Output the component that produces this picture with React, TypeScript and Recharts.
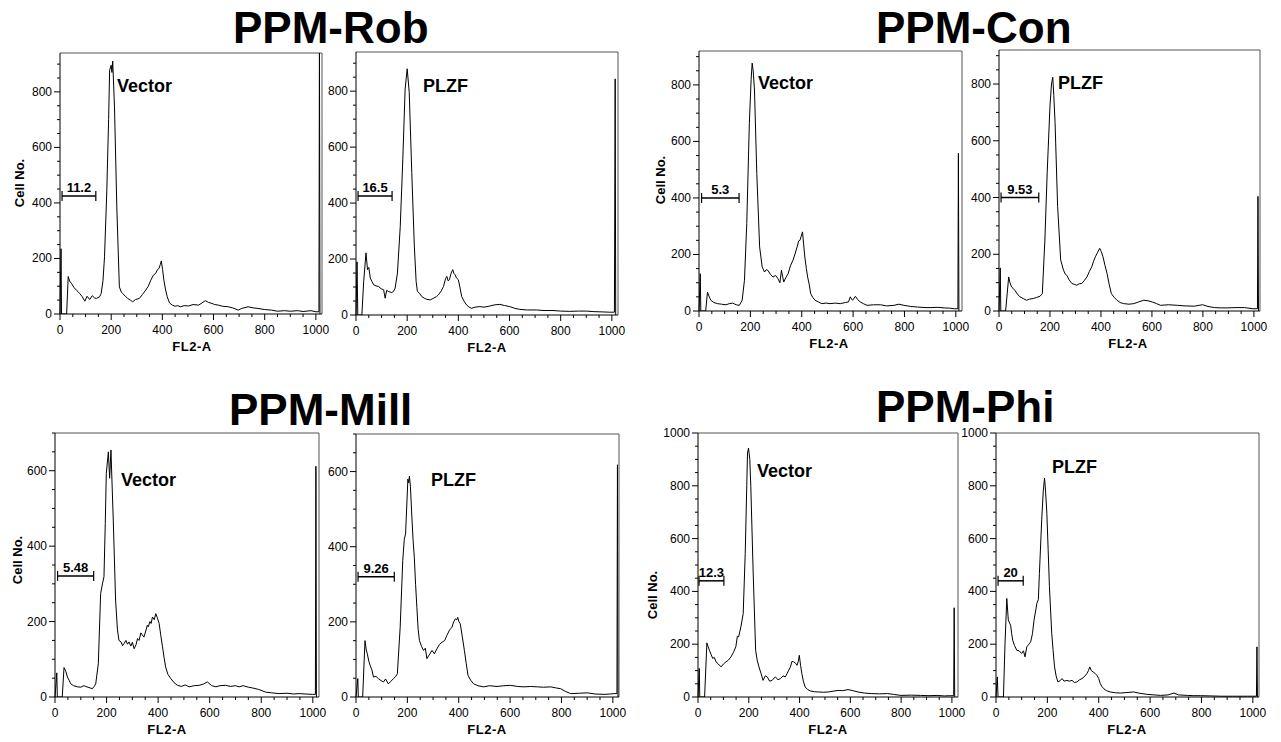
import React from 'react';
import { LineChart, Line, XAxis, YAxis, ReferenceLine } from 'recharts';

// FL2-A channel vs cell count
const robVector = [[0,0],[4,235],[6,0],[26,0],[32,135],[38,118],[45,110],[55,95],[66,84],[77,74],[87,62],[97,46],[106,64],[116,52],[126,66],[135,58],[142,56],[155,62],[161,74],[168,120],[174,206],[183,446],[190,700],[194,878],[200,896],[203,870],[206,911],[213,746],[222,386],[232,98],[240,78],[245,74],[255,64],[265,56],[275,50],[284,44],[295,52],[310,56],[322,70],[335,86],[345,100],[355,122],[365,140],[374,146],[381,160],[387,164],[392,178],[396,191],[401,160],[406,122],[412,90],[419,62],[428,40],[439,32],[450,28],[460,30],[471,26],[485,30],[503,29],[520,34],[542,32],[555,40],[568,48],[580,42],[594,38],[605,34],[619,32],[635,28],[658,26],[675,22],[697,14],[710,20],[735,26],[755,22],[774,20],[800,16],[826,14],[850,10],[877,12],[900,10],[929,12],[950,9],[981,12],[1000,8],[1012,8],[1014,1000],[1016,0]];
const robPlzf = [[0,0],[4,190],[7,0],[23,0],[30,120],[39,222],[45,162],[50,170],[56,132],[62,120],[69,108],[78,104],[88,102],[98,94],[108,90],[114,60],[120,88],[127,84],[140,80],[148,86],[153,96],[162,150],[173,317],[183,557],[192,808],[200,880],[208,796],[218,509],[228,246],[235,120],[240,84],[248,78],[257,66],[267,60],[277,56],[290,54],[303,60],[315,66],[322,72],[333,86],[342,102],[350,130],[355,138],[360,122],[365,126],[372,150],[378,162],[383,148],[387,144],[393,132],[400,126],[406,100],[413,66],[422,50],[432,36],[442,28],[452,24],[465,28],[484,30],[500,28],[523,32],[540,36],[562,38],[580,34],[601,30],[620,24],[640,20],[670,18],[705,18],[735,16],[770,16],[800,14],[835,13],[870,14],[900,14],[930,12],[965,11],[990,10],[1010,10],[1013,844],[1015,0]];
const conVector = [[0,0],[5,132],[7,0],[26,0],[33,67],[40,50],[46,38],[58,30],[72,26],[88,24],[105,22],[118,26],[131,28],[145,22],[157,20],[168,38],[177,109],[186,310],[196,664],[203,820],[207,877],[211,850],[216,782],[225,487],[236,227],[246,156],[255,138],[262,146],[268,144],[278,130],[288,120],[298,126],[307,115],[315,100],[321,144],[326,120],[330,103],[338,118],[347,132],[356,160],[366,180],[375,205],[382,227],[388,248],[393,250],[398,265],[403,280],[407,240],[412,191],[418,150],[423,120],[429,95],[435,61],[443,48],[452,38],[465,32],[478,26],[495,28],[510,26],[530,28],[550,26],[570,30],[582,32],[589,50],[594,42],[598,38],[604,46],[609,52],[618,40],[628,32],[640,26],[654,20],[680,22],[707,22],[730,18],[759,20],[778,24],[798,20],[825,16],[851,14],[880,12],[903,12],[930,13],[955,11],[975,10],[995,8],[1008,8],[1010,558],[1012,0]];
const conPlzf = [[0,0],[5,152],[7,0],[26,0],[38,120],[43,100],[49,85],[55,80],[62,73],[72,60],[82,50],[95,44],[108,38],[120,42],[134,44],[148,48],[161,52],[170,61],[180,250],[189,487],[200,723],[206,800],[211,824],[215,760],[220,664],[230,369],[242,180],[253,144],[260,130],[266,126],[275,110],[286,97],[295,94],[305,91],[315,96],[325,97],[335,108],[345,120],[355,140],[364,156],[371,175],[378,191],[386,205],[395,221],[401,210],[408,191],[416,160],[424,132],[432,95],[441,61],[452,48],[463,38],[475,30],[489,26],[510,24],[529,26],[548,32],[568,38],[585,36],[601,32],[618,26],[634,20],[665,22],[700,20],[730,18],[766,17],[785,20],[799,22],[820,16],[845,12],[870,11],[897,11],[930,12],[963,12],[996,8],[1014,8],[1016,404],[1018,0]];
const millVector = [[0,0],[7,64],[9,0],[28,0],[35,78],[42,68],[48,53],[55,44],[61,35],[72,30],[87,27],[100,26],[112,30],[119,28],[132,25],[145,22],[152,28],[158,35],[168,88],[177,274],[184,300],[190,319],[195,460],[199,593],[207,650],[212,580],[217,655],[226,469],[235,257],[242,180],[248,150],[256,146],[262,136],[268,142],[275,150],[281,140],[287,146],[294,135],[300,145],[307,128],[315,140],[320,155],[326,150],[333,170],[338,165],[345,159],[352,175],[358,190],[362,186],[368,200],[373,195],[378,212],[385,205],[391,221],[397,210],[404,195],[410,165],[417,133],[423,105],[429,80],[438,60],[449,49],[462,38],[475,31],[490,28],[505,32],[520,27],[540,30],[559,31],[575,34],[591,40],[608,30],[624,27],[640,30],[662,31],[680,28],[700,30],[714,27],[730,30],[750,26],[766,24],[790,20],[817,13],[840,11],[869,9],[900,10],[925,8],[947,9],[970,8],[999,7],[1010,7],[1012,612],[1014,0]];
const millPlzf = [[0,0],[7,49],[9,0],[26,0],[35,150],[40,125],[44,115],[50,95],[55,84],[62,72],[68,53],[78,55],[87,49],[97,44],[107,40],[115,48],[126,35],[136,42],[146,49],[155,55],[161,62],[172,186],[182,363],[188,420],[193,434],[202,580],[205,570],[208,588],[212,560],[217,487],[222,420],[227,372],[232,300],[237,239],[242,180],[247,150],[255,135],[263,124],[270,130],[276,102],[285,112],[296,124],[305,115],[315,128],[325,140],[335,146],[345,150],[354,164],[364,178],[374,186],[380,200],[387,208],[392,205],[396,212],[401,200],[406,195],[414,160],[422,124],[429,90],[436,58],[446,45],[458,35],[475,30],[497,27],[520,30],[549,28],[575,30],[602,31],[630,28],[654,27],[680,28],[706,27],[730,26],[758,27],[780,24],[797,22],[815,15],[836,9],[870,10],[901,11],[930,8],[966,7],[990,8],[1005,9],[1016,9],[1018,618],[1020,0]];
const phiVector = [[0,0],[5,108],[7,0],[26,0],[35,205],[40,190],[45,177],[52,160],[58,146],[64,150],[71,133],[80,125],[91,114],[100,125],[110,133],[120,140],[130,152],[140,170],[149,190],[155,230],[160,228],[169,266],[178,316],[186,544],[192,800],[195,924],[199,943],[204,900],[208,797],[217,481],[227,177],[233,140],[240,114],[248,90],[256,63],[265,80],[273,76],[282,60],[292,63],[300,72],[305,76],[315,65],[325,70],[335,80],[344,76],[354,95],[364,114],[370,135],[377,133],[384,128],[390,120],[395,135],[399,158],[404,120],[409,89],[415,60],[422,38],[432,28],[442,23],[458,20],[474,19],[495,18],[513,19],[532,22],[552,25],[570,24],[591,28],[610,24],[630,19],[655,15],[682,13],[715,12],[747,13],[770,10],[799,6],[840,7],[877,6],[910,5],[942,6],[970,4],[994,5],[1007,5],[1009,338],[1011,0]];
const phiPlzf = [[0,0],[5,76],[8,0],[29,0],[35,200],[42,373],[48,291],[53,280],[57,272],[61,240],[65,215],[72,195],[81,177],[90,175],[100,165],[107,175],[113,152],[120,190],[128,200],[135,209],[142,240],[148,291],[155,330],[159,354],[165,370],[169,468],[178,671],[184,780],[189,829],[193,780],[198,696],[203,560],[208,418],[217,241],[222,180],[228,114],[234,80],[241,57],[250,62],[257,70],[265,60],[276,63],[286,60],[296,63],[305,55],[315,57],[325,65],[335,70],[345,78],[354,89],[360,100],[365,114],[371,100],[378,95],[385,90],[393,82],[400,70],[406,51],[412,40],[419,32],[430,24],[445,19],[465,16],[484,15],[510,17],[536,19],[560,14],[589,10],[615,8],[641,6],[670,8],[693,15],[710,8],[745,6],[770,5],[797,5],[840,4],[875,3],[920,3],[950,3],[979,3],[1000,3],[1014,3],[1016,190],[1018,0]];

const xTicks = [0,50,100,150,200,250,300,350,400,450,500,550,600,650,700,750,800,850,900,950,1000];
const yTicks900 = [0,50,100,150,200,250,300,350,400,450,500,550,600,650,700,750,800,850,900];
const yTicks700 = [0,50,100,150,200,250,300,350,400,450,500,550,600,650,700];
const yTicks1000 = [0,50,100,150,200,250,300,350,400,450,500,550,600,650,700,750,800,850,900,950,1000];

const titles = [
  { text: 'PPM-Rob', x: 233, y: 28 },
  { text: 'PPM-Con', x: 876, y: 28 },
  { text: 'PPM-Mill', x: 229, y: 410 },
  { text: 'PPM-Phi', x: 876, y: 407 },
];

const FONT = '"Liberation Sans", Arial, sans-serif';

const panels = [
  { data: robVector, yMax: 940, yTicks: yTicks900, L: 60, T: 53, R: 322, B: 314, tag: 'Vector', tagX: 117, tagY: 86, gate: [8, 140, 425], gateLabel: '11.2', cellLabel: [19, 183], flX: 192 },
  { data: robPlzf, yMax: 940, yTicks: yTicks900, L: 356, T: 52, R: 618, B: 315, tag: 'PLZF', tagX: 423, tagY: 86, gate: [8, 141, 425], gateLabel: '16.5', cellLabel: null, flX: 487 },
  { data: conVector, yMax: 920, yTicks: yTicks900, L: 699, T: 51, R: 962, B: 311, tag: 'Vector', tagX: 758, tagY: 83, gate: [10, 156, 400], gateLabel: '5.3', cellLabel: [660, 180], flX: 829 },
  { data: conPlzf, yMax: 920, yTicks: yTicks900, L: 999, T: 50, R: 1260, B: 311, tag: 'PLZF', tagX: 1058, tagY: 83, gate: [8, 156, 400], gateLabel: '9.53', cellLabel: null, flX: 1128 },
  { data: millVector, yMax: 700, yTicks: yTicks700, L: 55, T: 433, R: 319, B: 697, tag: 'Vector', tagX: 121, tagY: 480, gate: [10, 150, 321], gateLabel: '5.48', cellLabel: [17, 560], flX: 167 },
  { data: millPlzf, yMax: 700, yTicks: yTicks700, L: 356, T: 434, R: 619, B: 697, tag: 'PLZF', tagX: 431, tagY: 480, gate: [8, 149, 320], gateLabel: '9.26', cellLabel: null, flX: 487 },
  { data: phiVector, yMax: 1000, yTicks: yTicks1000, L: 698, T: 433, R: 958, B: 697, tag: 'Vector', tagX: 757, tagY: 471, gate: [4, 102, 440], gateLabel: '12.3', cellLabel: [652, 595], flX: 828 },
  { data: phiPlzf, yMax: 1000, yTicks: yTicks1000, L: 996, T: 433, R: 1259, B: 697, tag: 'PLZF', tagX: 1052, tagY: 467, gate: [8, 106, 440], gateLabel: '20', cellLabel: null, flX: 1127 },
];

const YTick = (props: any) => {
  const { x, y, payload } = props;
  const v = payload.value;
  const major = v % 200 === 0;
  return (
    <g>
      <line x1={x} x2={x - (major ? 6 : 3)} y1={y} y2={y} stroke="#000" />
      {major && (
        <text x={x - 8} y={y} textAnchor="end" dominantBaseline="central" fontSize={12} fontFamily={FONT} fill="#000">
          {v}
        </text>
      )}
    </g>
  );
};

const XTick = (props: any) => {
  const { x, y, payload } = props;
  const v = payload.value;
  const major = v % 200 === 0;
  return (
    <g>
      <line x1={x} x2={x} y1={y} y2={y + (major ? 6 : 3)} stroke="#000" />
      {major && (
        <text x={x} y={y + 16} textAnchor="middle" dominantBaseline="central" fontSize={12} fontFamily={FONT} fill="#000">
          {v}
        </text>
      )}
    </g>
  );
};

const Panel = ({ p }: { p: any }) => {
  const rows = p.data.map((d: number[]) => ({ x: d[0], y: d[1] }));
  const plotH = p.B - p.T;
  const cap = (p.yMax * 5) / plotH;
  const [g1, g2, gy] = p.gate;
  return (
    <div style={{ position: 'absolute', left: p.L - 45, top: p.T - 10 }}>
      <LineChart
        width={p.R - p.L + 55}
        height={plotH + 45}
        data={rows}
        margin={{ top: 10, right: 10, bottom: 5, left: 5 }}
      >
        <XAxis
          dataKey="x"
          type="number"
          domain={[0, 1024]}
          ticks={xTicks}
          interval={0}
          height={30}
          tickSize={0}
          tickMargin={0}
          tickLine={false}
          axisLine={{ stroke: '#000' }}
          tick={(t: any) => <XTick {...t} />}
        />
        <YAxis
          type="number"
          domain={[0, p.yMax]}
          allowDataOverflow
          ticks={p.yTicks}
          interval={0}
          width={40}
          tickSize={0}
          tickMargin={0}
          tickLine={false}
          axisLine={{ stroke: '#000' }}
          tick={(t: any) => <YTick {...t} />}
        />
        <ReferenceLine y={p.yMax} stroke="#555" />
        <ReferenceLine x={1024} stroke="#555" />
        <Line
          dataKey="y"
          type="linear"
          stroke="#000"
          strokeWidth={1}
          dot={false}
          isAnimationActive={false}
        />
        <ReferenceLine
          segment={[{ x: g1, y: gy }, { x: g2, y: gy }]}
          stroke="#000"
          strokeWidth={1.5}
          label={{ value: p.gateLabel, position: 'top', offset: 4, fontSize: 13, fontWeight: 'bold', fill: '#000', fontFamily: FONT }}
        />
        <ReferenceLine segment={[{ x: g1, y: gy - cap }, { x: g1, y: gy + cap }]} stroke="#000" strokeWidth={1.2} />
        <ReferenceLine segment={[{ x: g2, y: gy - cap }, { x: g2, y: gy + cap }]} stroke="#000" strokeWidth={1.2} />
      </LineChart>
    </div>
  );
};

const textBase: React.CSSProperties = {
  position: 'absolute',
  fontFamily: FONT,
  fontWeight: 'bold',
  color: '#000',
  lineHeight: 1,
  whiteSpace: 'nowrap',
};

export default function App() {
  return (
    <div style={{ position: 'absolute', left: 0, top: 0, width: 1281, height: 742, background: '#fff', overflow: 'hidden' }}>
      {panels.map((p, i) => (
        <Panel key={i} p={p} />
      ))}
      {titles.map((t) => (
        <div key={t.text} style={{ ...textBase, left: t.x, top: t.y, fontSize: 44, transform: 'translateY(-50%)' }}>
          {t.text}
        </div>
      ))}
      {panels.map((p, i) => (
        <div key={'tag' + i} style={{ ...textBase, left: p.tagX, top: p.tagY, fontSize: 18, transform: 'translateY(-50%)' }}>
          {p.tag}
        </div>
      ))}
      {panels.map((p, i) => (
        <div key={'fl' + i} style={{ ...textBase, left: p.flX, top: p.B + 32, fontSize: 13, letterSpacing: 0.5, transform: 'translate(-50%, -50%)' }}>
          FL2-A
        </div>
      ))}
      {panels.map((p, i) =>
        p.cellLabel ? (
          <div
            key={'cell' + i}
            style={{ ...textBase, left: p.cellLabel[0], top: p.cellLabel[1], fontSize: 13, transform: 'translate(-50%, -50%) rotate(-90deg)' }}
          >
            Cell No.
          </div>
        ) : null
      )}
    </div>
  );
}
